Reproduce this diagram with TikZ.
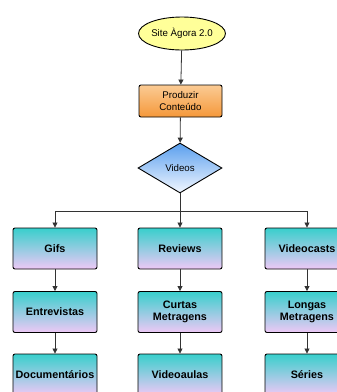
\documentclass[tikz,border=0pt]{standalone}
\usepackage{fontspec}
\setmainfont{Liberation Sans}
\usetikzlibrary{shapes.geometric,arrows.meta}

\definecolor{sitefill}{HTML}{FFFF99}
\definecolor{prodtop}{HTML}{FBCB94}
\definecolor{prodbot}{HTML}{F5983A}
\definecolor{vidtop}{HTML}{5A9FEE}
\definecolor{vidbot}{HTML}{F2F7FF}
\definecolor{boxtop}{HTML}{38CFCC}
\definecolor{boxbot}{HTML}{EEC8F6}
\definecolor{linegray}{HTML}{333333}

\tikzset{
  link/.style={draw=linegray, line width=0.8pt, -{Triangle[length=5pt,width=5pt]}},
  site/.style={ellipse, draw=black, line width=0.9pt, fill=sitefill, minimum width=78pt,
    minimum height=33pt, inner sep=0pt, font=\fontsize{9.7}{12}\selectfont},
  prod/.style={rectangle, rounded corners=2pt, draw=black, line width=0.9pt, top color=prodtop,
    bottom color=prodbot, minimum width=83pt, minimum height=32pt, align=center,
    font=\fontsize{9.7}{12}\selectfont},
  losango/.style={diamond, draw=black, line width=0.9pt, top color=vidtop, bottom color=vidbot,
    minimum width=84pt, minimum height=50pt, inner sep=1pt, font=\fontsize{9.7}{12}\selectfont},
  midia/.style={rectangle, rounded corners=2pt, draw=black, line width=0.9pt, top color=boxtop,
    bottom color=boxbot, minimum width=84pt, minimum height=41pt, inner sep=0.5pt, align=center,
    font=\fontsize{10.8}{12}\selectfont\bfseries}
}

\begin{document}
\begin{tikzpicture}[x=1pt,y=-1pt]
  \useasboundingbox (0,0) rectangle (337,392);
  \node[site](S) at (182,33.5){Site Àgora 2.0};
  \node[prod](P) at (180.5,101){Produzir\\Conteúdo};
  \node[losango](V) at (180,168){Videos};
  \draw[link](S)--(P);
  \draw[link](P)--(V);
  \coordinate (J) at (180,211);
  \draw[draw=linegray, line width=0.8pt](V.south)--(J);
  % three columns of media types
  \foreach \i/\x/\a/\b/\c in {1/55/Gifs/Entrevistas/Documentários,
      2/180/Reviews/Curtas\\Metragens/Videoaulas,
      3/307/Videocasts/Longas\\Metragens/Séries}{
    \node[midia](T\i) at (\x,248.5){\a};
    \node[midia](M\i) at (\x,312){\b};
    \node[midia](B\i) at (\x,374.5){\c};
    \draw[link](J)-|(T\i.north);
    \draw[link](T\i)--(M\i);
    \draw[link](M\i)--(B\i);
  }
\end{tikzpicture}
\end{document}
